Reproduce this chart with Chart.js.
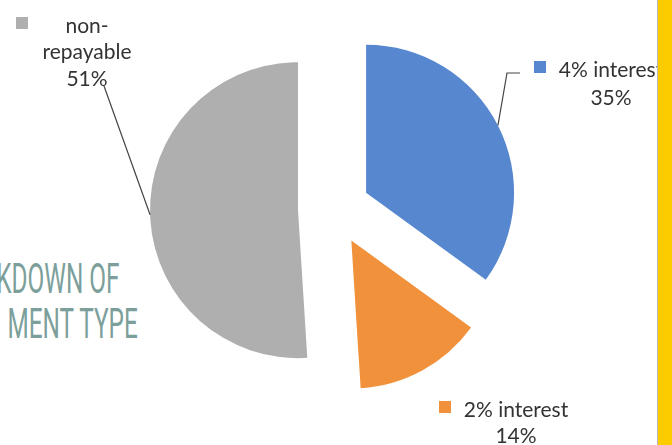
<!DOCTYPE html>
<html>
<head>
<meta charset="utf-8">
<script src="https://cdn.jsdelivr.net/npm/chart.js@4/dist/chart.umd.min.js"></script>
<style>
  html, body { margin: 0; padding: 0; background: #ffffff; }
  #wrap { position: relative; width: 672px; height: 445px; overflow: hidden; background: #ffffff; }
  .title-line {
    position: absolute; white-space: nowrap;
    font-family: Roboto, "Liberation Sans", sans-serif; font-weight: 400;
    font-size: 42px; line-height: 42px; color: #7d9f9b;
    transform-origin: right top; transform: scaleX(0.58);
  }
  #chartBox { position: absolute; left: 0; top: 0; width: 672px; height: 445px; }
  #bar { position: absolute; left: 657px; top: 0; width: 15px; height: 445px; background: #fccb00; border-left: 1px solid #b8b8b8; box-sizing: border-box; }
</style>
</head>
<body>
<div id="wrap">
  <div class="title-line" style="right:552px; top:258px;">KDOWN OF</div>
  <div class="title-line" style="right:534px; top:303px;">MENT TYPE</div>
  <div id="chartBox"><canvas id="c"></canvas></div>
  <div id="bar"></div>
</div>
<script>
// ---- data ----
const categories = ['4% interest', '2% interest', 'non-repayable'];
const values = [35, 14, 51];
const colors = ['#5687cf', '#f1913b', '#afafaf'];

// ---- layout of labels (text positions only) ----
const labelLayout = [
  { cx: 611, y: 70, lineGap: 28, keyX: 534, keyY: 61, leader: [[507, 73], [520, 73]], wrap: false },
  { cx: 516, y: 410, lineGap: 26, keyX: 439, keyY: 401, leader: null, wrap: false },
  { cx: 87, y: 26, lineGap: 26.5, keyX: 16, keyY: 17, leader: [[104, 86]], wrap: true }
];
const EXPLODE = 36;

const explodePlugin = {
  id: 'explode',
  afterDatasetUpdate(chart, args) {
    const meta = chart.getDatasetMeta(args.index);
    meta.data.forEach(arc => {
      const mid = (arc.startAngle + arc.endAngle) / 2;
      arc.x += Math.cos(mid) * EXPLODE;
      arc.y += Math.sin(mid) * EXPLODE;
    });
  }
};

const labelPlugin = {
  id: 'sliceLabels',
  afterDatasetsDraw(chart) {
    const ctx = chart.ctx;
    const meta = chart.getDatasetMeta(0);
    const total = values.reduce((a, b) => a + b, 0);
    ctx.save();
    meta.data.forEach((arc, i) => {
      const L = labelLayout[i];
      if (L.leader) {
        const mid = (arc.startAngle + arc.endAngle) / 2;
        const px = arc.x + Math.cos(mid) * arc.outerRadius;
        const py = arc.y + Math.sin(mid) * arc.outerRadius;
        ctx.strokeStyle = '#444444';
        ctx.lineWidth = 1.2;
        ctx.beginPath();
        ctx.moveTo(px, py);
        L.leader.forEach(p => ctx.lineTo(p[0], p[1]));
        ctx.stroke();
      }
      ctx.fillStyle = colors[i];
      ctx.fillRect(L.keyX, L.keyY, 12, 12);
      let lines;
      const name = categories[i];
      if (L.wrap && name.indexOf('-') > 0) {
        const k = name.indexOf('-') + 1;
        lines = [name.slice(0, k), name.slice(k)];
      } else {
        lines = [name];
      }
      lines.push(Math.round(values[i] / total * 100) + '%');
      ctx.fillStyle = '#333333';
      ctx.font = '21px Lato, "Open Sans", sans-serif';
      ctx.textAlign = 'center';
      ctx.textBaseline = 'middle';
      lines.forEach((t, j) => ctx.fillText(t, L.cx, L.y + j * L.lineGap));
    });
    ctx.restore();
  }
};

new Chart(document.getElementById('c'), {
  type: 'pie',
  data: {
    labels: categories,
    datasets: [{
      data: values,
      backgroundColor: colors,
      borderWidth: 0,
      hoverOffset: 0
    }]
  },
  options: {
    responsive: true,
    maintainAspectRatio: false,
    animation: false,
    layout: { padding: { left: 100, right: 104, top: 61, bottom: 88 } },
    plugins: {
      legend: { display: false },
      tooltip: { enabled: false }
    }
  },
  plugins: [explodePlugin, labelPlugin]
});
</script>
</body>
</html>
